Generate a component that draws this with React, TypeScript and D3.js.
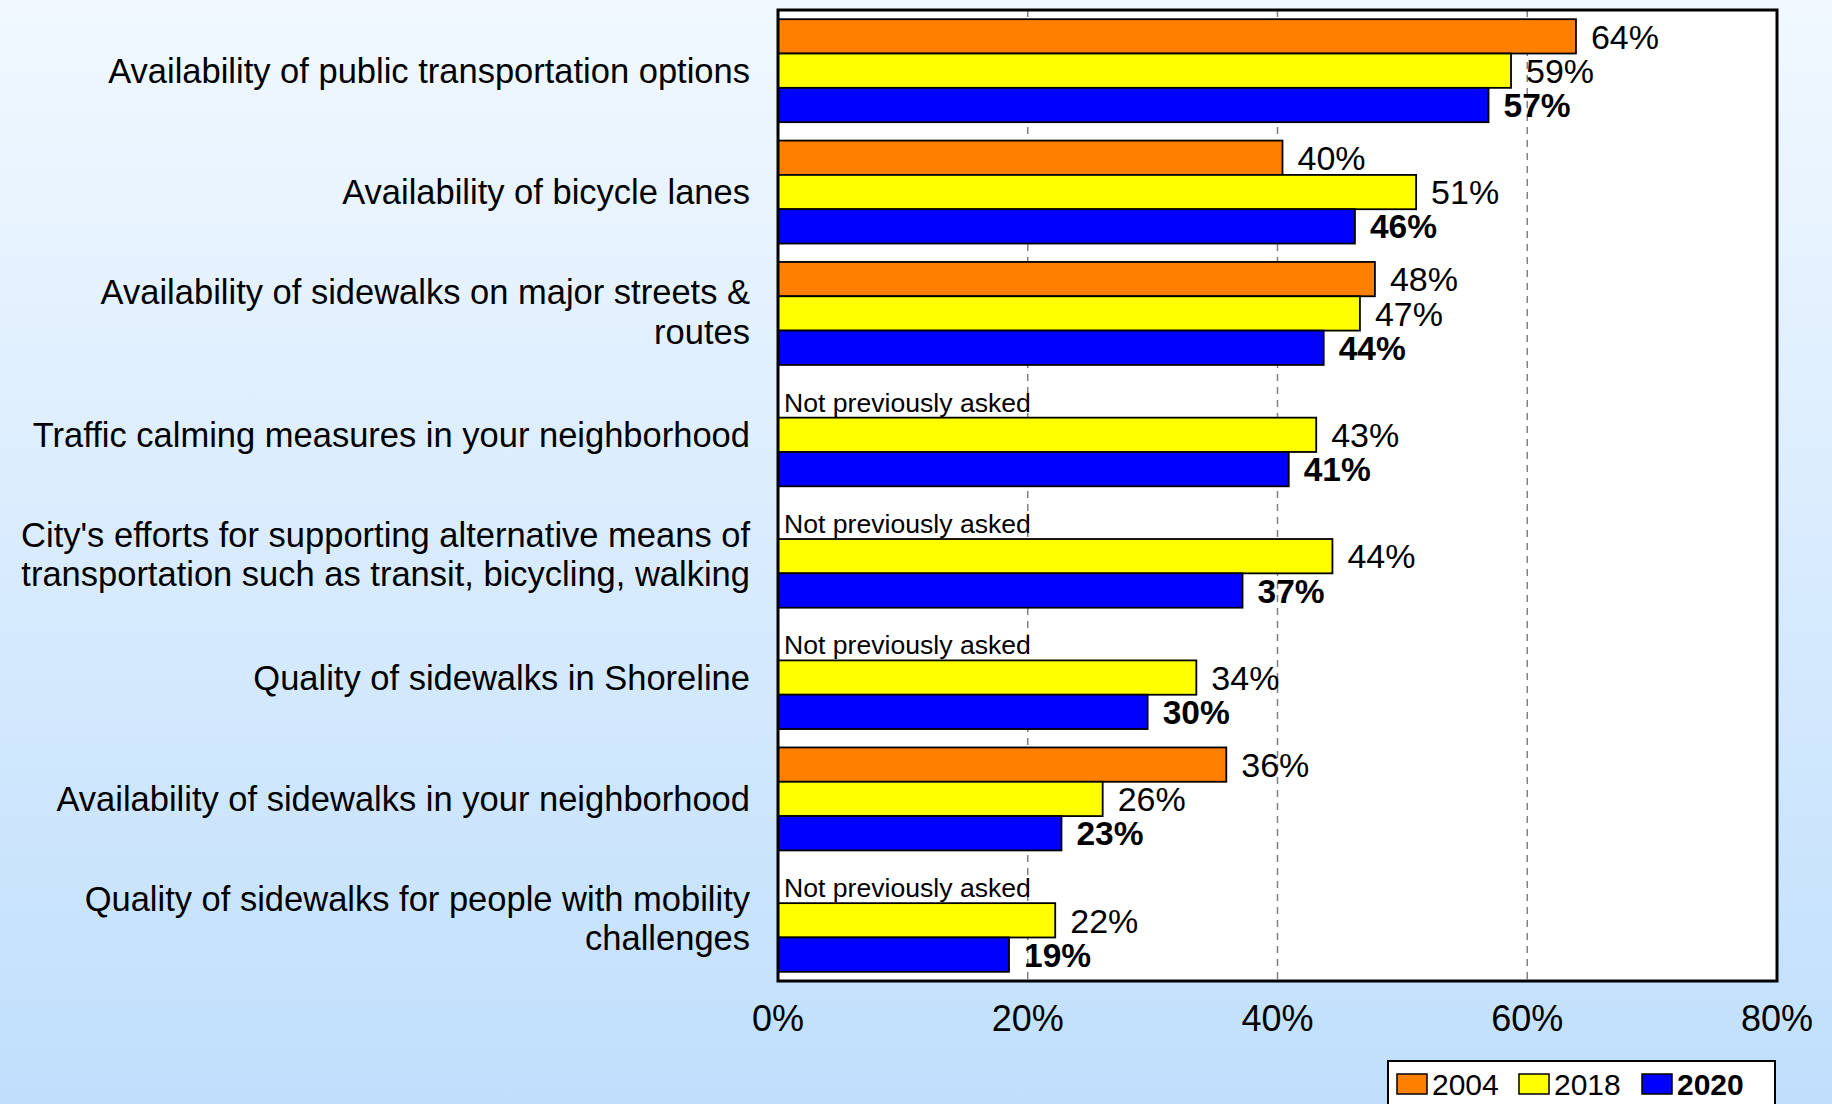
import React from "react";
import * as d3 from "d3";

const categories: string[][] = [
  ["Availability of public transportation options"],
  ["Availability of bicycle lanes"],
  ["Availability of sidewalks on major streets &", "routes"],
  ["Traffic calming measures in your neighborhood"],
  ["City's efforts for supporting alternative means of", "transportation such as transit, bicycling, walking"],
  ["Quality of sidewalks in Shoreline"],
  ["Availability of sidewalks in your neighborhood"],
  ["Quality of sidewalks for people with mobility", "challenges"],
];

const series = ["2004", "2018", "2020"];
const values2004: (number | null)[] = [63.9, 40.4, 47.8, null, null, null, 35.9, null];
const values2018: number[] = [58.7, 51.1, 46.6, 43.1, 44.4, 33.5, 26.0, 22.2];
const values2020: number[] = [56.9, 46.2, 43.7, 40.9, 37.2, 29.6, 22.7, 18.5];
const tickValues = [0, 20, 40, 60, 80];
const gridValues = [20, 40, 60];
const notAskedText = "Not previously asked";

const colors = ["#FF8000", "#FFFF00", "#0000FF"];
const FONT = "'Liberation Sans', Arial, Helvetica, sans-serif";

export default function App() {
  const W = 1832;
  const H = 1104;
  const left = 778;
  const right = 1777;
  const top = 10;
  const bottom = 981;

  const x = d3.scaleLinear().domain([0, 80]).range([left, right]);
  const idx = categories.map((_, i) => i);
  const y = d3
    .scaleBand<number>()
    .domain(idx)
    .range([top, bottom])
    .paddingInner(0.1516)
    .paddingOuter(0.0758);
  const inner = d3.scaleBand<string>().domain(series).range([0, y.bandwidth()]).padding(0);

  const all = [values2004, values2018, values2020];
  const fmt = (v: number) => `${Math.round(v)}%`;

  return (
    <div style={{ position: "absolute", left: 0, top: 0, width: W, height: H }}>
      <svg width={W} height={H} style={{ display: "block" }}>
        <defs>
          <linearGradient id="bg" x1="0" y1="0" x2="0" y2="1">
            <stop offset="0" stopColor="#F1F8FF" />
            <stop offset="1" stopColor="#C0DFFC" />
          </linearGradient>
        </defs>
        <rect x={0} y={0} width={W} height={H} fill="url(#bg)" />
        <rect x={left} y={top} width={right - left} height={bottom - top} fill="#FFFFFF" />
        {gridValues.map((g) => (
          <line
            key={g}
            x1={x(g)}
            x2={x(g)}
            y1={top}
            y2={bottom}
            stroke="#808080"
            strokeWidth={1.5}
            strokeDasharray="7,6"
          />
        ))}
        {idx.map((i) => {
          const y0 = y(i) as number;
          const n = categories[i].length;
          return (
            <g key={i}>
              {all.map((arr, s) => {
                const v = arr[i];
                const by = y0 + (inner(series[s]) as number);
                const bh = inner.bandwidth();
                if (v == null) {
                  return (
                    <text
                      key={s}
                      x={left + 6}
                      y={by + bh - 6}
                      fontFamily={FONT}
                      fontSize={26.6}
                      fill="#000"
                    >
                      {notAskedText}
                    </text>
                  );
                }
                return (
                  <g key={s}>
                    <rect
                      x={x(0)}
                      y={by}
                      width={x(v) - x(0)}
                      height={bh}
                      fill={colors[s]}
                      stroke="#000"
                      strokeWidth={1.8}
                    />
                    <text
                      x={x(v) + 15}
                      y={by + bh / 2}
                      dy="0.36em"
                      fontFamily={FONT}
                      fontSize={s === 2 ? 33.5 : 34}
                      fontWeight={s === 2 ? "bold" : "normal"}
                      fill="#000"
                    >
                      {fmt(v)}
                    </text>
                  </g>
                );
              })}
              {categories[i].map((line, li) => {
                const lh = 39.5;
                const shift = n > 1 ? -2 : 0;
                const cy = y0 + y.bandwidth() / 2 + (li - (n - 1) / 2) * lh + shift;
                return (
                  <text
                    key={li}
                    x={750}
                    y={cy}
                    dy="0.36em"
                    textAnchor="end"
                    fontFamily={FONT}
                    fontSize={34.5}
                    fill="#000"
                  >
                    {line}
                  </text>
                );
              })}
            </g>
          );
        })}
        <rect
          x={left}
          y={top}
          width={right - left}
          height={bottom - top}
          fill="none"
          stroke="#000"
          strokeWidth={3}
        />
        {tickValues.map((t) => (
          <text
            key={t}
            x={x(t)}
            y={1031}
            textAnchor="middle"
            fontFamily={FONT}
            fontSize={36}
            fill="#000"
          >
            {`${t}%`}
          </text>
        ))}
        <g>
          <rect x={1388} y={1061} width={387} height={60} fill="#FFFFFF" stroke="#000" strokeWidth={2} />
          {series.map((s, k) => {
            const sx = [1397, 1519, 1642][k];
            return (
              <g key={s}>
                <rect x={sx} y={1074} width={30} height={20} fill={colors[k]} stroke="#000" strokeWidth={1.5} />
                <text
                  x={sx + 35}
                  y={1095}
                  fontFamily={FONT}
                  fontSize={30}
                  fontWeight={k === 2 ? "bold" : "normal"}
                  fill="#000"
                >
                  {s}
                </text>
              </g>
            );
          })}
        </g>
      </svg>
    </div>
  );
}
